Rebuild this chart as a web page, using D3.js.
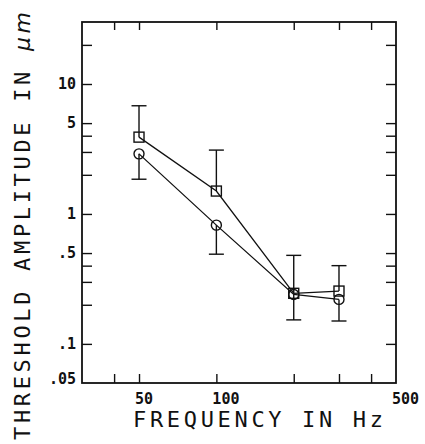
<!DOCTYPE html>
<html>
<head>
<meta charset="utf-8">
<script src="https://cdn.jsdelivr.net/npm/d3@7"></script>
<style>
body { margin: 0; background: #fff; }
text { font-family: "DejaVu Sans Mono", monospace; fill: #111; }
</style>
</head>
<body>
<script>
// data
const freqs = [50, 100, 200, 300];
const squareVals = [3.9, 1.5, 0.245, 0.255];
const circleVals = [2.9, 0.82, 0.24, 0.22];
const errHigh = [6.8, 3.1, 0.48, 0.40];
const errLow = [1.85, 0.49, 0.153, 0.15];

const xTicks = [40, 50, 100, 200, 300, 400];
const xLabels = [50, 100, 500];
const yTicks = [20, 10, 5, 4, 3, 2, 1, 0.5, 0.4, 0.3, 0.2, 0.1];
const yLabels = [10, 5, 1, 0.5, 0.1, 0.05];

const width = 425, height = 444;
const mLeft = 82, mRight = 396, mTop = 22, mBottom = 383;

const svg = d3.select('body').append('svg').attr('width', width).attr('height', height);

const x = d3.scaleLog().domain([30, 500]).range([mLeft, mRight]);
const y = d3.scaleLog().domain([0.05, 30]).range([mBottom, mTop]);

const fmtY = d => (d < 1 ? String(d).replace(/^0/, '') : String(d));

// ticks on all four sides, pointing inward
svg.append('g').attr('transform', `translate(0,${mBottom})`)
  .call(d3.axisBottom(x).tickValues(xTicks).tickSize(-9).tickFormat(''));
svg.append('g').attr('transform', `translate(0,${mTop})`)
  .call(d3.axisTop(x).tickValues(xTicks).tickSize(-8).tickFormat(''));
svg.append('g').attr('transform', `translate(${mLeft},0)`)
  .call(d3.axisLeft(y).tickValues(yTicks).tickSize(-10).tickFormat(''));
svg.append('g').attr('transform', `translate(${mRight},0)`)
  .call(d3.axisRight(y).tickValues(yTicks).tickSize(-10).tickFormat(''));
svg.selectAll('.domain').remove();
svg.selectAll('.tick line').attr('stroke', '#111').attr('stroke-width', 1.4);

svg.append('rect')
  .attr('x', mLeft).attr('y', mTop)
  .attr('width', mRight - mLeft).attr('height', mBottom - mTop)
  .attr('fill', 'none').attr('stroke', '#111').attr('stroke-width', 1.8);

// tick labels
svg.selectAll('.xlab').data(xLabels).enter().append('text')
  .attr('x', d => x(d) - 4).attr('y', 404)
  .attr('font-size', 15).attr('font-weight', 'bold')
  .text(d => d);
svg.selectAll('.ylab').data(yLabels).enter().append('text')
  .attr('x', 76).attr('y', d => Math.min(y(d) + 5, 384))
  .attr('text-anchor', 'end')
  .attr('font-size', 15).attr('font-weight', 'bold')
  .text(fmtY);

// axis titles
svg.append('text')
  .attr('x', 133).attr('y', 427)
  .attr('font-size', 22)
  .attr('textLength', 250).attr('lengthAdjust', 'spacing')
  .text('FREQUENCY IN Hz');

const yt = svg.append('text')
  .attr('transform', 'translate(30,440) rotate(-90)')
  .attr('font-size', 22)
  .attr('textLength', 428).attr('lengthAdjust', 'spacing');
yt.append('tspan').text('THRESHOLD AMPLITUDE IN ');
yt.append('tspan').attr('font-style', 'italic').attr('font-family', 'DejaVu Sans').text('μm');

// error bars
const cap = 7.5;
const g = svg.append('g').attr('stroke', '#111').attr('stroke-width', 1.4).attr('fill', 'none');
freqs.forEach((f, i) => {
  const cx = x(f);
  const hi = Math.max(squareVals[i], circleVals[i]);
  const lo = Math.min(squareVals[i], circleVals[i]);
  g.append('line').attr('x1', cx).attr('x2', cx).attr('y1', y(hi)).attr('y2', y(errHigh[i]));
  g.append('line').attr('x1', cx - cap).attr('x2', cx + cap).attr('y1', y(errHigh[i])).attr('y2', y(errHigh[i]));
  g.append('line').attr('x1', cx).attr('x2', cx).attr('y1', y(lo)).attr('y2', y(errLow[i]));
  g.append('line').attr('x1', cx - cap).attr('x2', cx + cap).attr('y1', y(errLow[i])).attr('y2', y(errLow[i]));
});

// connecting lines
const line = d3.line().x((d, i) => x(freqs[i])).y(d => y(d));
svg.append('path').attr('d', line(squareVals)).attr('fill', 'none').attr('stroke', '#111').attr('stroke-width', 1.3);
svg.append('path').attr('d', line(circleVals)).attr('fill', 'none').attr('stroke', '#111').attr('stroke-width', 1.3);

// markers
svg.selectAll('.sq').data(squareVals).enter().append('rect')
  .attr('x', (d, i) => x(freqs[i]) - 5).attr('y', d => y(d) - 5)
  .attr('width', 10).attr('height', 10)
  .attr('fill', 'none').attr('stroke', '#111').attr('stroke-width', 1.4);
svg.selectAll('.ci').data(circleVals).enter().append('circle')
  .attr('cx', (d, i) => x(freqs[i])).attr('cy', d => y(d)).attr('r', 5)
  .attr('fill', 'none').attr('stroke', '#111').attr('stroke-width', 1.4);
</script>
</body>
</html>
